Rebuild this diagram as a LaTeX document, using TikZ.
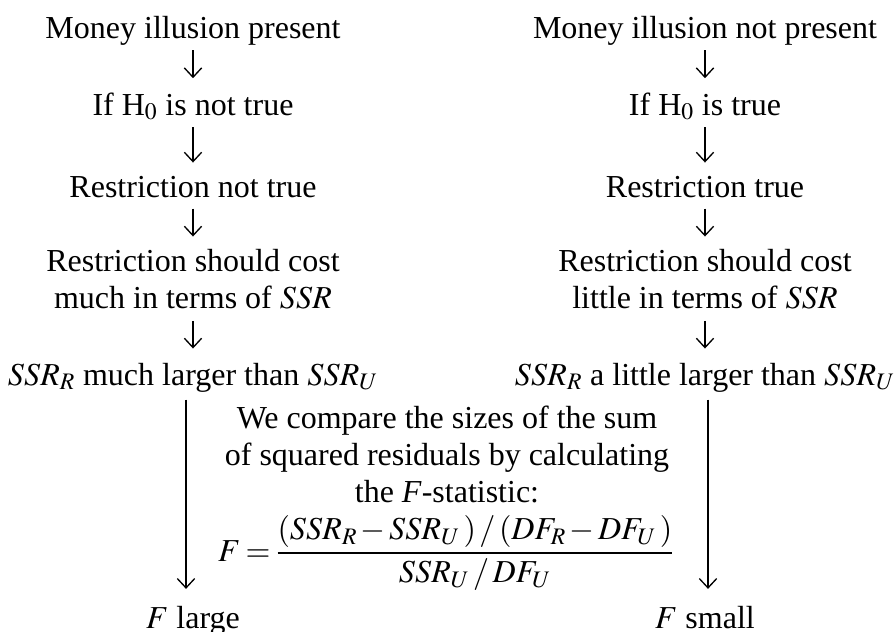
\documentclass[tikz,border=0pt]{standalone}
\usepackage{mathptmx}
\usepackage{fontspec}
\setmainfont{Liberation Serif}
\usetikzlibrary{arrows.meta}

\begin{document}
\begin{tikzpicture}[
    x=0.75pt, y=-0.75pt,
    stage/.style={anchor=base, inner sep=0pt, align=center, font=\fontsize{24}{27.75}\selectfont},
    arrow/.style={-{Straight Barb[length=7pt, width=13pt]}, line width=1pt},
    hop/.style 2 args={arrow, shorten <=#1, shorten >=#2},
    drop/.style={arrow, shorten <=5.5pt, shorten >=12.5pt}
]
    \useasboundingbox (0,0) rectangle (894,632);

    \node[stage] (illus) at (193, 38) {Money illusion present};
    \node[stage] (hfalse) at (193, 115) {If H$_0$ is not true};
    \node[stage] (rfalse) at (193, 197) {Restriction not true};
    \node[stage] (costmuch) at (193, 308) {Restriction should cost\\much in terms of $SSR$};
    \node[stage] (ssrbig) at (193, 385) {$SSR_R$ much larger than $SSR_U$};
    \node[stage] (flarge) at (193, 628) {$F$ large};

    \node[stage] (noillus) at (705, 38) {Money illusion not present};
    \node[stage] (htrue) at (705, 115) {If H$_0$ is true};
    \node[stage] (rtrue) at (705, 197) {Restriction true};
    \node[stage] (costlittle) at (705, 308) {Restriction should cost\\little in terms of $SSR$};
    \node[stage] (ssrsmall) at (705, 385) {$SSR_R$ a little larger than $SSR_U$};
    \node[stage] (fsmall) at (705, 628) {$F$ small};

    \node[stage] (compare) at (447, 502) {We compare the sizes of the sum\\of squared residuals by calculating\\the \textit{F}-statistic:};
    \node[stage] (ftest) at (446, 561) {\medmuskip=2mu\thickmuskip=3mu$\displaystyle F=\frac{(SSR_R-SSR_U\,)\,/\,(DF_R-DF_U\,)}{SSR_U\,/\,DF_U}$};

    \draw[hop={3.75pt}{10.5pt}] (illus) -- (hfalse);
    \draw[hop={5.25pt}{9.75pt}] (hfalse) -- (rfalse);
    \draw[hop={8.25pt}{9pt}] (rfalse) -- (costmuch);
    \draw[hop={9pt}{10.5pt}] (costmuch) -- (ssrbig);
    \draw[drop] ([xshift=-5.25pt]ssrbig.south) -- ([xshift=-5.25pt]flarge.north);

    \draw[hop={3.75pt}{10.5pt}] (noillus) -- (htrue);
    \draw[hop={5.25pt}{9.75pt}] (htrue) -- (rtrue);
    \draw[hop={8.25pt}{9pt}] (rtrue) -- (costlittle);
    \draw[hop={9pt}{10.5pt}] (costlittle) -- (ssrsmall);
    \draw[drop] ([xshift=2.25pt]ssrsmall.south) -- ([xshift=2.25pt]fsmall.north);
\end{tikzpicture}
\end{document}
